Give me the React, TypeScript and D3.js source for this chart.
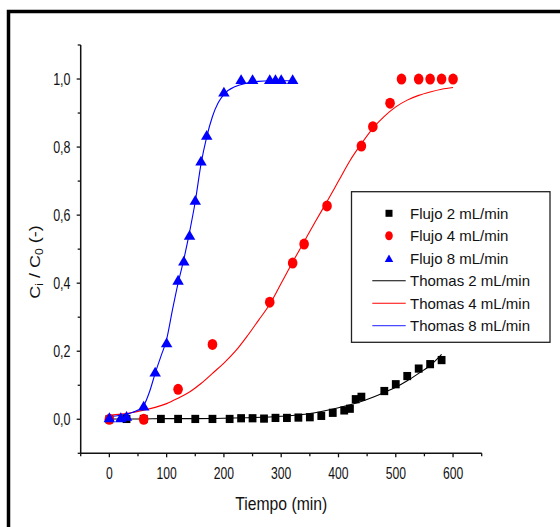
import React from "react";
import * as d3 from "d3";

// ---- Data ----
const flujo2T = [0, 30, 60, 90, 120, 150, 180, 210, 230, 250, 270, 290, 310, 330, 350, 370, 390, 410, 420, 430, 440, 480, 500, 520, 540, 560, 580];
const flujo2V = [0.0, 0.001, 0.001, 0.001, 0.001, 0.001, 0.001, 0.001, 0.003, 0.003, 0.002, 0.004, 0.004, 0.005, 0.006, 0.01, 0.019, 0.026, 0.031, 0.059, 0.066, 0.083, 0.103, 0.127, 0.149, 0.162, 0.174];

const flujo4T = [0, 60, 120, 180, 280, 320, 340, 380, 440, 460, 490, 510, 540, 560, 580, 600];
const flujo4V = [0.0, 0.0, 0.088, 0.22, 0.344, 0.459, 0.515, 0.627, 0.803, 0.86, 0.929, 1.0, 1.0, 1.0, 1.0, 1.0];

const flujo8T = [0, 20, 30, 60, 80, 100, 120, 130, 140, 150, 160, 170, 200, 230, 250, 280, 290, 300, 320];
const flujo8V = [0.006, 0.006, 0.01, 0.04, 0.14, 0.226, 0.41, 0.466, 0.542, 0.645, 0.76, 0.836, 0.963, 1.0, 1.0, 1.0, 1.0, 1.0, 1.0];

const thomas2T = [0, 50, 100, 150, 200, 250, 300, 350, 370, 400, 430, 460, 480, 500, 520, 540, 560, 580];
const thomas2V = [0.001, 0.001, 0.002, 0.002, 0.003, 0.005, 0.009, 0.017, 0.023, 0.034, 0.047, 0.065, 0.079, 0.094, 0.113, 0.135, 0.158, 0.191];

const thomas4T = [0, 20, 40, 60, 80, 100, 120, 140, 160, 180, 200, 220, 240, 260, 280, 300, 320, 340, 360, 380, 400, 420, 440, 460, 480, 500, 520, 540, 560, 580, 600];
const thomas4V = [0.012, 0.015, 0.02, 0.027, 0.035, 0.046, 0.062, 0.08, 0.105, 0.135, 0.165, 0.2, 0.243, 0.29, 0.338, 0.4, 0.462, 0.522, 0.582, 0.64, 0.7, 0.76, 0.81, 0.855, 0.89, 0.918, 0.938, 0.952, 0.962, 0.97, 0.975];

const thomas8T = [0, 20, 40, 50, 60, 70, 80, 90, 100, 110, 120, 130, 140, 150, 160, 170, 180, 190, 200, 220, 240, 260, 280, 300, 320];
const thomas8V = [0.008, 0.012, 0.02, 0.027, 0.04, 0.08, 0.135, 0.185, 0.235, 0.32, 0.4, 0.47, 0.55, 0.64, 0.75, 0.83, 0.89, 0.93, 0.955, 0.978, 0.988, 0.993, 0.995, 0.995, 0.995];

const xMajorTicks = [0, 100, 200, 300, 400, 500, 600];
const xMinorTicks = [-50, 50, 150, 250, 350, 450, 550, 650];
const yMajorTicks = [0, 0.2, 0.4, 0.6, 0.8, 1.0];
const yMinorTicks = [-0.1, 0.1, 0.3, 0.5, 0.7, 0.9, 1.1];

const legendLabels = ["Flujo 2 mL/min", "Flujo 4 mL/min", "Flujo 8 mL/min", "Thomas 2 mL/min", "Thomas 4 mL/min", "Thomas 8 mL/min"];

const BLACK = "#000000";
const RED = "#ff0000";
const BLUE = "#0000ff";
const FONT = "'Liberation Sans', Arial, sans-serif";

const zip = (t: number[], v: number[]) => t.map((tt, i) => [tt, v[i]] as [number, number]);

export default function App() {
  const x = d3.scaleLinear().domain([-50, 650]).range([80.7, 481.7]);
  const y = d3.scaleLinear().domain([-0.1, 1.1]).range([453.3, 45]);
  const x0 = x.range()[0];
  const y0 = y.range()[0];

  const line = d3
    .line<[number, number]>()
    .x((d) => x(d[0]))
    .y((d) => y(d[1]))
    .curve(d3.curveMonotoneX);

  const fmt = (v: number) => d3.format(".1f")(v).replace(".", ",");

  const tri = (cx: number, cy: number, w: number, h: number) =>
    `M${cx},${cy - h / 2}L${cx + w / 2},${cy + h / 2}L${cx - w / 2},${cy + h / 2}Z`;

  const legendRows = [213.3, 235.7, 258.3, 280.7, 303.3, 325.7];
  const legSymX = 389;

  return (
    <svg width={560} height={527} style={{ position: "absolute", left: 0, top: 0, background: "#fff" }}>
      <rect x={0} y={0} width={560} height={527} fill="#fff" />
      {/* outer frame */}
      <rect x={8.5} y={11.5} width={620} height={620} fill="none" stroke="#000" strokeWidth={3.5} />

      {/* axes */}
      <line x1={x0} y1={y(1.1)} x2={x0} y2={y0} stroke="#111" strokeWidth={1.5} />
      <line x1={x0} y1={y0} x2={x(650)} y2={y0} stroke="#111" strokeWidth={1.5} />
      {xMajorTicks.map((t) => (
        <g key={"xm" + t}>
          <line x1={x(t)} x2={x(t)} y1={y0} y2={y0 + 4} stroke="#111" strokeWidth={1.3} />
          <text
            transform={`translate(${x(t)},478.8) scale(0.76,1)`}
            textAnchor="middle"
            fontFamily={FONT}
            fontSize={16}
            fill="#111"
          >
            {t}
          </text>
        </g>
      ))}
      {xMinorTicks.map((t) => (
        <line key={"xn" + t} x1={x(t)} x2={x(t)} y1={y0} y2={y0 + 3} stroke="#111" strokeWidth={1.3} />
      ))}
      {yMajorTicks.map((v) => (
        <g key={"ym" + v}>
          <line x1={x0 - 4} x2={x0} y1={y(v)} y2={y(v)} stroke="#111" strokeWidth={1.3} />
          <text
            transform={`translate(70.5,${y(v) + 5.8}) scale(0.78,1)`}
            textAnchor="end"
            fontFamily={FONT}
            fontSize={16}
            fill="#111"
          >
            {fmt(v)}
          </text>
        </g>
      ))}
      {yMinorTicks.map((v) => (
        <line key={"yn" + v} x1={x0 - 3} x2={x0} y1={y(v)} y2={y(v)} stroke="#111" strokeWidth={1.3} />
      ))}

      {/* axis titles */}
      <text
        transform={`translate(${(x0 + x(650)) / 2},509.5) scale(0.85,1)`}
        textAnchor="middle"
        fontFamily={FONT}
        fontSize={18.5}
        fill="#111"
      >
        Tiempo (min)
      </text>
      <text
        transform={`translate(40,262) rotate(-90) scale(1,0.85)`}
        textAnchor="middle"
        fontFamily={FONT}
        fontSize={18}
        fill="#111"
      >
        C<tspan fontSize={12} dy={4}>i</tspan>
        <tspan dy={-4}> / C</tspan>
        <tspan fontSize={12} dy={4}>0</tspan>
        <tspan dy={-4}> (-)</tspan>
      </text>

      {/* model curves */}
      <path d={line(zip(thomas2T, thomas2V)) || ""} fill="none" stroke={BLACK} strokeWidth={1.1} />
      <path d={line(zip(thomas4T, thomas4V)) || ""} fill="none" stroke={RED} strokeWidth={1.1} />
      <path d={line(zip(thomas8T, thomas8V)) || ""} fill="none" stroke={BLUE} strokeWidth={1.1} />

      {/* experimental points */}
      {zip(flujo2T, flujo2V).map(([t, v], i) => (
        <rect key={"s" + i} x={x(t) - 3.9} y={y(v) - 4.1} width={7.8} height={8.2} fill={BLACK} />
      ))}
      {zip(flujo4T, flujo4V).map(([t, v], i) => (
        <ellipse key={"c" + i} cx={x(t)} cy={y(v)} rx={4.8} ry={5.5} fill={RED} />
      ))}
      {zip(flujo8T, flujo8V).map(([t, v], i) => (
        <path key={"t" + i} d={tri(x(t), y(v), 11.5, 9.8)} fill={BLUE} />
      ))}

      {/* legend */}
      <rect x={351.5} y={191.7} width={198.5} height={150.6} fill="#fff" stroke="#222" strokeWidth={1.3} />
      <rect x={legSymX - 3.5} y={legendRows[0] - 3.5} width={7} height={7} fill={BLACK} />
      <ellipse cx={legSymX} cy={legendRows[1]} rx={3.8} ry={4.5} fill={RED} />
      <path d={tri(legSymX, legendRows[2], 8.5, 7.5)} fill={BLUE} />
      <line x1={372.3} x2={405.7} y1={legendRows[3]} y2={legendRows[3]} stroke={BLACK} strokeWidth={1.1} />
      <line x1={372.3} x2={405.7} y1={legendRows[4]} y2={legendRows[4]} stroke={RED} strokeWidth={1.1} />
      <line x1={372.3} x2={405.7} y1={legendRows[5]} y2={legendRows[5]} stroke="#4a4aff" strokeWidth={1.3} />
      {legendLabels.map((lab, i) => (
        <text key={lab} x={410} y={legendRows[i] + 5.5} fontFamily={FONT} fontSize={15} fill="#111">
          {lab}
        </text>
      ))}
    </svg>
  );
}
